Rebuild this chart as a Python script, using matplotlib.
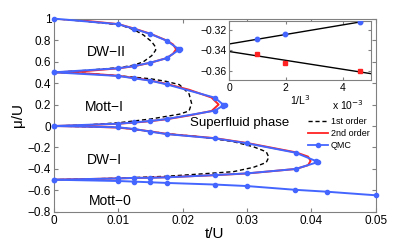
import numpy as np
import matplotlib
matplotlib.use("Agg")
import matplotlib.pyplot as plt
from matplotlib.lines import Line2D

plt.rcParams['font.family'] = ['Liberation Sans', 'DejaVu Sans']

# ---- QMC lobes (t/U, mu/U) ----
qmc_dw2_t = [0, 0.01, 0.0125, 0.015, 0.0175, 0.0193, 0.0196, 0.0194, 0.0175, 0.015, 0.0125, 0.01, 0]
qmc_dw2_mu = [1, 0.948, 0.904, 0.857, 0.795, 0.72, 0.715, 0.708, 0.631, 0.590, 0.559, 0.538, 0.5]
qmc_m1_t = [0, 0.01, 0.0125, 0.015, 0.0175, 0.025, 0.0263, 0.0266, 0.0263, 0.025, 0.0175, 0.015, 0.0125, 0.01, 0]
qmc_m1_mu = [0.5, 0.466, 0.444, 0.422, 0.388, 0.264, 0.2, 0.196, 0.19, 0.143, 0.065, 0.047, 0.034, 0.022, 0]
qmc_dw1_t = [0, 0.01, 0.0125, 0.015, 0.0175, 0.025, 0.03, 0.0376, 0.0408, 0.0411, 0.0409, 0.0376, 0.03, 0.025,
             0.0175, 0.015, 0.0125, 0.01, 0]
qmc_dw1_mu = [0, -0.012, -0.028, -0.053, -0.075, -0.115, -0.161, -0.249, -0.328, -0.333, -0.338, -0.40, -0.441,
              -0.457, -0.478, -0.482, -0.483, -0.488, -0.5]
qmc_m0_t = [0, 0.01, 0.0125, 0.015, 0.0175, 0.025, 0.03, 0.0375, 0.0425, 0.05]
qmc_m0_mu = [-0.5, -0.512, -0.518, -0.524, -0.53, -0.545, -0.559, -0.594, -0.612, -0.645]

# ---- 2nd order ----
so_dw2_t = [0, 0.005, 0.01, 0.0125, 0.015, 0.0175, 0.0185, 0.019, 0.0185, 0.0175, 0.015, 0.0125, 0.01, 0.005, 0]
so_dw2_mu = [1, 0.979, 0.949, 0.907, 0.859, 0.797, 0.76, 0.715, 0.672, 0.632, 0.589, 0.557, 0.537, 0.512, 0.5]
so_m1_t = [0, 0.005, 0.01, 0.0125, 0.015, 0.0175, 0.021, 0.0245, 0.0256, 0.0245, 0.021, 0.0175, 0.015, 0.0125,
           0.01, 0.005, 0]
so_m1_mu = [0.5, 0.49, 0.468, 0.447, 0.424, 0.392, 0.338, 0.265, 0.2, 0.14, 0.098, 0.063, 0.045, 0.032, 0.021,
            0.008, 0]
so_dw1_t = [0, 0.005, 0.01, 0.0125, 0.015, 0.0175, 0.025, 0.03, 0.0376, 0.0395, 0.0399, 0.0395, 0.0376, 0.03,
            0.025, 0.0175, 0.015, 0.0125, 0.01, 0.005, 0]
so_dw1_mu = [0, -0.005, -0.015, -0.03, -0.05, -0.073, -0.113, -0.158, -0.245, -0.285, -0.325, -0.365, -0.40,
             -0.442, -0.458, -0.477, -0.481, -0.484, -0.488, -0.494, -0.5]

# ---- 1st order ----
fo_dw2_t = [0, 0.005, 0.0103, 0.0125, 0.0139, 0.0152, 0.0158, 0.0158, 0.0152, 0.0139, 0.0125, 0.0103, 0.005, 0]
fo_dw2_mu = [1, 0.975, 0.941, 0.895, 0.848, 0.785, 0.735, 0.705, 0.655, 0.598, 0.568, 0.545, 0.518, 0.5]
fo_m1_t = [0, 0.005, 0.01, 0.015, 0.0175, 0.0195, 0.021, 0.0214, 0.021, 0.0195, 0.0175, 0.015, 0.01, 0.005, 0]
fo_m1_mu = [0.5, 0.49, 0.468, 0.44, 0.415, 0.385, 0.3, 0.21, 0.14, 0.11, 0.09, 0.065, 0.03, 0.01, 0]
fo_dw1_t = [0, 0.01, 0.015, 0.0175, 0.0227, 0.0279, 0.031, 0.033, 0.0334, 0.033, 0.031, 0.0279, 0.0227, 0.0175,
            0.01, 0]
fo_dw1_mu = [0, -0.013, -0.05, -0.072, -0.1, -0.146, -0.193, -0.24, -0.29, -0.34, -0.385, -0.425, -0.447,
             -0.468, -0.486, -0.5]

# ---- inset: finite-size extrapolation ----
L = np.array([6, 8, 10])
inset_upper = [-0.3121, -0.3243, -0.3292]
inset_lower = [-0.3606, -0.3519, -0.3437]

blue = '#4466ff'
red = '#ff2222'

fig = plt.figure(figsize=(4.15, 2.45), dpi=100)
ax = fig.add_axes([0.130, 0.135, 0.775, 0.789])

for t, m in [(fo_dw2_t, fo_dw2_mu), (fo_m1_t, fo_m1_mu), (fo_dw1_t, fo_dw1_mu)]:
    ax.plot(t, m, 'k--', lw=1.0, dashes=(3, 2))
for t, m in [(so_dw2_t, so_dw2_mu), (so_m1_t, so_m1_mu), (so_dw1_t, so_dw1_mu)]:
    ax.plot(t, m, color=red, lw=1.4)
for t, m in [(qmc_dw2_t, qmc_dw2_mu), (qmc_m1_t, qmc_m1_mu), (qmc_dw1_t, qmc_dw1_mu), (qmc_m0_t, qmc_m0_mu)]:
    ax.plot(t, m, color=blue, lw=1.4, marker='o', ms=3.0, mec=blue, mfc=blue, clip_on=False, zorder=5)

ax.set_xlim(0, 0.05)
ax.set_ylim(-0.8, 1)
ax.set_xticks([0, 0.01, 0.02, 0.03, 0.04, 0.05])
ax.set_xticklabels(['0', '0.01', '0.02', '0.03', '0.04', '0.05'])
ax.set_yticks(np.arange(-0.8, 1.01, 0.2))
ax.set_yticklabels(['\u22120.8', '\u22120.6', '\u22120.4', '\u22120.2', '0', '0.2', '0.4', '0.6', '0.8', '1'])
ax.tick_params(direction='in', top=True, right=True, labelsize=8.5, length=3, color='0.5', pad=2)
for s in ax.spines.values():
    s.set_color('0.5')
ax.set_xlabel('t/U', fontsize=11, labelpad=0)
ax.set_ylabel('\u03bc/U', fontsize=11, labelpad=2)

ax.text(0.0082, 0.693, 'DW\u2212II', fontsize=10, ha='center', va='center')
ax.text(0.0079, 0.18, 'Mott\u2212I', fontsize=10, ha='center', va='center')
ax.text(0.0212, 0.03, 'Superfluid phase', fontsize=9.5, ha='left', va='center')
ax.text(0.0079, -0.317, 'DW\u2212I', fontsize=10, ha='center', va='center')
ax.text(0.0087, -0.702, 'Mott\u22120', fontsize=10, ha='center', va='center')

handles = [Line2D([], [], color='k', ls='--', lw=1.0, dashes=(3, 2)),
           Line2D([], [], color=red, lw=1.3),
           Line2D([], [], color=blue, lw=1.3, marker='o', ms=3)]
ax.legend(handles, ['1st order', '2nd order', 'QMC'], loc='upper left', bbox_to_anchor=(0.78, 0.51),
          frameon=False, fontsize=6.5, handlelength=2.2, handletextpad=0.3, labelspacing=0.35,
          borderaxespad=0)

# inset
ins = fig.add_axes([0.552, 0.672, 0.342, 0.242])
x_inv = 1.0 / L**3 * 1e3
xx = np.array([0, 5])
for y, c, mk in [(inset_upper, blue, 'o'), (inset_lower, red, 's')]:
    p = np.polyfit(x_inv, y, 1)
    ins.plot(xx, np.polyval(p, xx), color='k', lw=1.0)
    ins.plot(x_inv, y, ls='none', marker=mk, color=c, ms=3.2, zorder=5)
ins.set_xlim(0, 5)
ins.set_ylim(-0.3694, -0.3112)
ins.set_xticks([0, 2, 4])
ins.set_yticks([-0.36, -0.34, -0.32])
ins.set_yticklabels(['\u22120.36', '\u22120.34', '\u22120.32'])
ins.tick_params(direction='in', top=True, right=True, labelsize=7.5, length=2.5, color='0.5', pad=2)
for s in ins.spines.values():
    s.set_color('0.5')
ins.set_xlabel('1/L$^3$', fontsize=7.5, labelpad=0)
fig.text(0.80, 0.572, 'x 10$^{-3}$', fontsize=7.5, ha='left', va='center')

fig.savefig('out.png', dpi=100)
